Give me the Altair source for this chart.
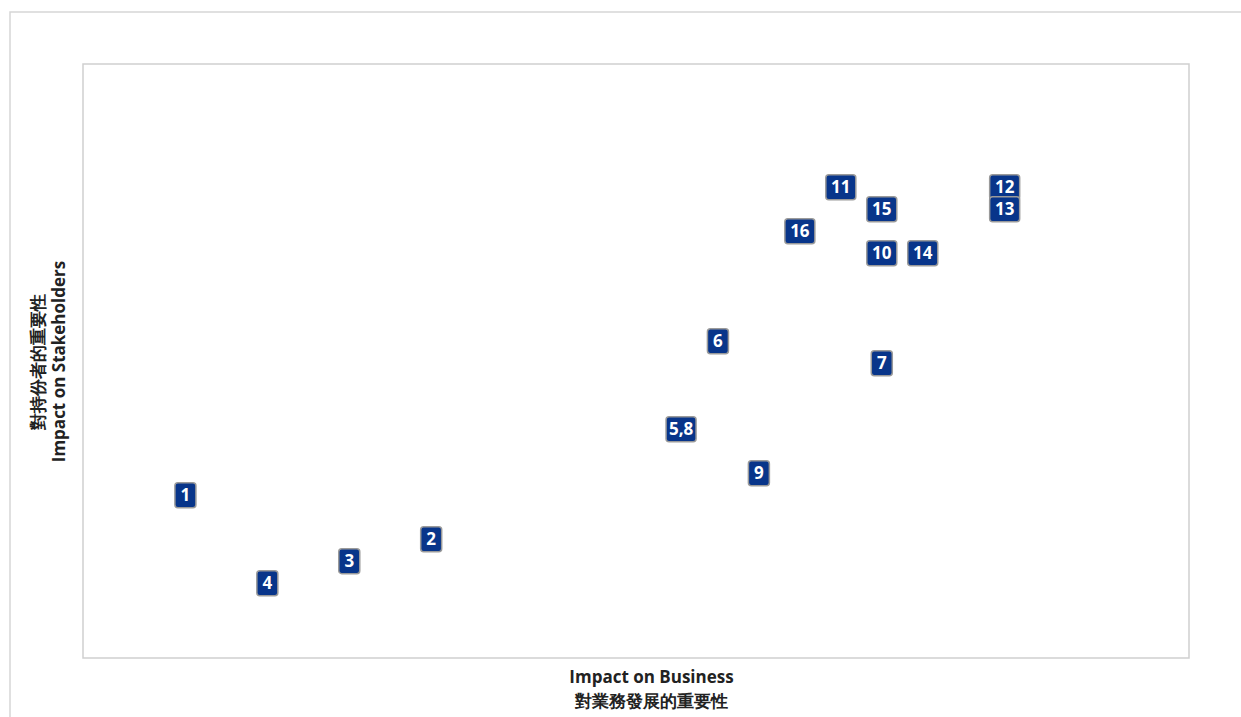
import altair as alt
import pandas as pd

# Materiality matrix: issue numbers placed by business / stakeholder impact
labels = ["1", "4", "3", "2", "5,8", "9", "6", "7", "16", "11", "15", "10", "14", "12", "13"]
business = [2.5, 4.5, 6.5, 8.5, 14.6, 16.5, 15.5, 19.5, 17.5, 18.5, 19.5, 19.5, 20.5, 22.5, 22.5]
stakeholders = [7.4, 3.4, 4.4, 5.4, 10.4, 8.4, 14.4, 13.4, 19.4, 21.4, 20.4, 18.4, 18.4, 21.4, 20.4]

df = pd.DataFrame({"label": labels, "business": business, "stakeholders": stakeholders})
df["order"] = range(len(df))
df["wide"] = df["label"].str.len() > 1

x_title = ["Impact on Business", "對業務發展的重要性"]
y_title = ["對持份者的重要性", "Impact on Stakeholders"]

FONT = "Open Sans"
BOX_FILL = "#08358a"

x_enc = alt.X(
    "business:Q",
    scale=alt.Scale(domain=[0, 27], nice=False, zero=False),
    axis=alt.Axis(title=x_title, labels=False, ticks=False, domain=False, grid=False,
                  titleFont=FONT, titleFontSize=17, titleFontWeight="bold",
                  titleColor="#222222", titlePadding=11, titleX=568, titleLineHeight=24),
)
y_enc = alt.Y(
    "stakeholders:Q",
    scale=alt.Scale(domain=[0, 27], nice=False, zero=False),
    axis=alt.Axis(title=y_title, labels=False, ticks=False, domain=False, grid=False,
                  titleFont=FONT, titleFontSize=17, titleFontWeight="bold",
                  titleColor="#222222", titlePadding=15, titleLineHeight=21),
)

base = alt.Chart(df).encode(x=x_enc, y=y_enc, order=alt.Order("order:Q"))

narrow_boxes = base.transform_filter("!datum.wide").mark_rect(
    width=21, height=25, cornerRadius=3, fill=BOX_FILL, stroke="#9a9a9a", strokeWidth=1.5
)
wide_boxes = base.transform_filter("datum.wide").mark_rect(
    width=30, height=25, cornerRadius=3, fill=BOX_FILL, stroke="#9a9a9a", strokeWidth=1.5
)
text = base.mark_text(
    font=FONT, fontSize=17, fontWeight="bold", color="white", dy=1
).encode(text="label:N")

# light outer frame around the whole figure
frame = alt.Chart(pd.DataFrame({"k": [0]})).mark_rect(
    fill=None, stroke="#d6d6d6", strokeWidth=1.5
).encode(
    x=alt.value(-73), x2=alt.value(1300), y=alt.value(-52), y2=alt.value(800)
)

chart = alt.layer(frame, narrow_boxes, wide_boxes, text).properties(
    width=1106,
    height=594,
    autosize=alt.AutoSizeParams(type="none"),
    padding={"left": 83, "top": 64, "right": 52, "bottom": 59},
    background="white",
).configure_view(stroke="#d0d0d0", strokeWidth=1.5)

chart.save("out.html", embed_options={"renderer": "svg", "actions": False})
